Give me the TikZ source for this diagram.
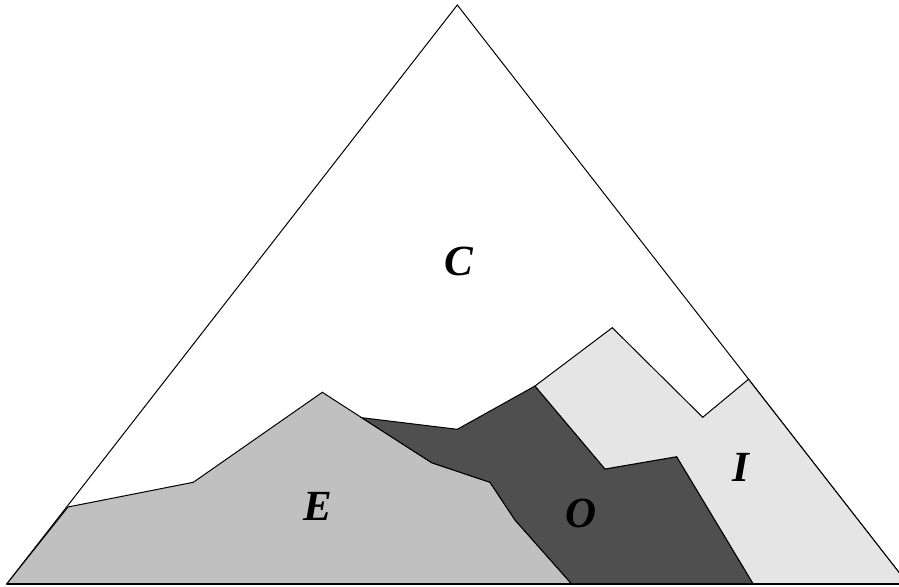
\documentclass[tikz,border=0pt]{standalone}
\usepackage{fontspec}
\setmainfont{Liberation Serif}
\definecolor{eGray}{HTML}{C0C0C0}
\definecolor{oGray}{HTML}{4F4F4F}
\definecolor{iGray}{HTML}{E5E5E5}

\begin{document}
\begin{tikzpicture}[x=0.5pt,y=-0.5pt,line width=0.5pt,line join=miter,
  region/.style={draw=black,line width=0.5pt},
  lbl/.style={font=\fontsize{21.5}{25}\selectfont\bfseries\itshape,inner sep=0pt}]
\useasboundingbox (0,0) rectangle (899,587);
% triangle corners
\coordinate (apex) at (457.3,5);
\coordinate (bl) at (6.7,584);
\coordinate (br) at (908,584);
% outer triangle
\draw[fill=white] (bl) -- (apex) -- (br);
% E region
\filldraw[region,fill=eGray] (68,507) -- (193.3,482.3) -- (322.3,392.3)
  -- (361.7,417.7) -- (431.7,462.7) -- (490,482.3) -- (515,520)
  -- (571.7,584) -- (bl) -- cycle;
% O region
\filldraw[region,fill=oGray] (361.7,417.7) -- (457.3,429.3) -- (535,386)
  -- (605,469) -- (676.7,456.7) -- (753.3,584) -- (571.7,584) -- (515,520)
  -- (490,482.3) -- (431.7,462.7) -- cycle;
% I region
\filldraw[region,fill=iGray] (535,386) -- (612.3,327.7) -- (702.7,417.3)
  -- (748.5,379.3) -- (br) -- (753.3,584) -- (676.7,456.7) -- (605,469) -- cycle;
% base
\draw[line width=1pt] (bl) -- (br);
% labels
\node[lbl] (lblC) at (459,261) {C};
\node[lbl] (lblE) at (318,506) {E};
\node[lbl] (lblO) at (581,513) {O};
\node[lbl] (lblI) at (741,467) {I};
\end{tikzpicture}
\end{document}
